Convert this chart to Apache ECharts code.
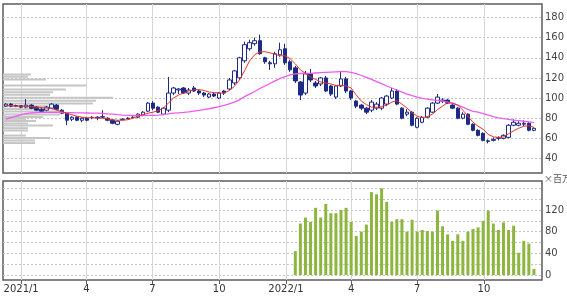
<!DOCTYPE html>
<html><head><meta charset="utf-8">
<script src="https://cdn.jsdelivr.net/npm/echarts@6/dist/echarts.min.js"></script>
<style>html,body{margin:0;padding:0;background:#fff}#c{width:567px;height:298px}</style>
</head><body><div id="c"></div>
<script>
// Weekly candles, first week (Friday) and OHLC values
const firstWeek = '2020-12-11';
const open  = [92,94,92,92.5,91,93,91,89,88,90,93,88,85,79,81,78,80,80.5,81,81,80,78,74,78.5,79.5,80.5,81,83,87,95,91,84,88,105,108,110,105,110,107,105,101,104,100,107,109,115,120,137,149,154,157,140,135,134,143,149,136,130,116,105,124,115,114,120,112,101,112,119,107,97,93,90,88,90,90,94,100,107,90,84,86,71,76,81,86,95,97,98,93,90,80,84,74,68,65,57,58,60,60,61,73,73,74,75,68];
const close = [94,92,92.6,91,93,90,88,87,91,94,89,85,78,81,78,80,78,81,80.4,81.6,78,75,77,79,80,81,84,86,95,90,86,90,105,110,109,105,108,107,105,103,104,102,105,105,118,127,140,153,155,157,144,136,134,144,148,135,128,117,103,124,118,112,120,107,104,112,119,107,100,92,90,86,96,94,100,102,107,94,80,86,73,80,81,90,95,101,98,95,90,80,84,74,68,63,58,57.6,59,60.6,63,73,76,75,75,68,70];
const low   = [91,91,91,90,90,89,87,86,87,89,88,84,73,77,77,76,77,79,78,80,77,74,73,78,79,80,80,82,86,88,85,83,86,103,104,104,103,106,103,101,100,101,99,103,108,113,118,135,147,152,143,134,128,130,141,133,126,115,98,103,116,110,112,106,102,99,111,105,98,90,88,84,86,88,88,92,99,93,79,82,72,70,75,80,85,94,95,94,89,79,79,73,67,62,57,55,57,58,59,60,72,72,72,67,67];
const high  = [95,95,93.5,93,99,94,92,91,92,95,94,89,86,82,82,81,81,82,82,88,81,79,78,80,81,82,85,87,96,97,92,91,121,111,110,111,110,112,108,106,105,105,106,108,120,128,141,156,158,160,163,141,137,146,155,154,138,132,117,127,129,117,121,122,113,113,126,121,108,98,94,91,98,96,101,103,110,109,91,89,87,81,82,91,96,104,100,99,94,91,86,85,75,69,66,59,61,62,64,74,79,77,78,76,71];
// Moving averages (red = short, magenta = long)
const maShort = [93,92.5,92,92,92,91.5,91,90.5,90,89.5,88,86.5,85,83.5,82,81,80.5,80.5,80,80,79.5,78.5,78,78,78.5,80,82,83.5,85,86,87.5,90,95,100,103,105,107,108,108.5,107.5,106,105.5,105,105,107.5,111.5,118,127,137,143,146,146,145,143.5,142,142,139,134,128,124.5,121,118.5,116,115,114,112.5,112.5,112,110,103,97,93.5,91,91,91.5,93,96,97.5,94,90,85.5,82,80.5,81.5,84,88.5,92,95.5,95,93,88,82,76,72,69,64,61.5,61,61.5,64.5,67.5,70,72,72.5,71];
const maLong  = [79,80.5,82,83.5,84.5,85.2,85.6,85.8,85.8,85.8,85.7,85.7,85.6,85.5,85.4,85.3,85.2,85.1,85,84.8,84.4,84,83.5,83.1,82.8,82.7,82.7,82.7,82.8,82.9,83.1,83.6,84.4,85,85.4,85.7,86.3,87,87.7,88.5,89.4,90.4,91.4,92.7,94.3,96,98.2,101.5,104,106.5,109.5,112,114.5,117,119.5,121.4,123,124,124.4,124.5,124.6,124.9,125.2,125.5,125.8,126.1,126.4,126.2,125.6,124.2,122.4,120.5,118.5,116.4,114.3,112,110,108,106,104,102.4,101,99.8,98.9,98.3,97.7,97,96,94.8,93,91,88.8,86.8,86,84.5,83,81.5,80.3,79.5,78.8,78.2,77.7,77,76.3,75.6];
// Weekly volume (millions), from the first week of 2022
const volumeFirstWeek = '2022-01-14';
const volume = [44,95,106,98,124,106,131,114,114,120,124,98,72,80,93,153,149,166,135,98,103,103,80,102,80,83,81,80,119,90,75,63,75,63,80,85,88,100,119,95,83,97,83,91,41,63,58,11];
// Volume-by-price profile (price level, relative volume)
const profilePrice  = [123.4,121.2,118.4,112.6,108.4,105.9,103.4,100.4,97.4,94.6,91.8,89.2,86.6,83.7,81.1,79.4,77.2,74.8,72.8,70.1,67.8,62.8,60.3,57.9,55.4];
const profileVolume = [28,25,43,83,63,50,47,110,93,90,45,35,60,57,40,23,33,25,50,25,25,23,47,32,32];
// Axis labels
const quarterDates  = ['2021-01-01','2021-04-01','2021-07-01','2021-10-01','2022-01-01','2022-04-01','2022-07-01','2022-10-01'];
const quarterLabels = ['2021/1','4','7','10','2022/1','4','7','10'];
const volumeTickLabels = [0,40,80,120];

function dayOf(s){const p=s.split('-').map(Number);return (Date.UTC(p[0],p[1]-1,p[2])-Date.UTC(2021,0,1))/86400000;}
const w0 = dayOf(firstWeek);
const weekDays = open.map((_, i) => w0 + 7 * i);
const v0 = dayOf(volumeFirstWeek);
const volDays = volume.map((_, i) => v0 + 7 * i);
const qDays = quarterDates.map(dayOf);
const X_MIN = -25, X_MAX = 718;
const font = 'DejaVu Sans';
const frame = '#5c5c5c';
const navy = '#1d2b84';
const dash = {color:'#c4c4c4', type:[2,2], width:1};

const chart = echarts.init(document.getElementById('c'), null, {renderer:'canvas'});
chart.setOption({
  animation:false,
  backgroundColor:'#fff',
  grid:[
    {left:3, top:4, width:539, height:169, show:true, borderColor:frame, borderWidth:1.5, backgroundColor:'#fff'},
    {left:3, top:17.5, width:539, height:141},
    {left:3, top:181, width:539, height:99, show:true, borderColor:frame, borderWidth:1.5, backgroundColor:'#fff'},
    {left:3, top:188.3, width:539, height:86.7}
  ],
  xAxis:[
    {gridIndex:0, type:'value', min:X_MIN, max:X_MAX, axisLine:{show:false},
     axisTick:{show:false, customValues:qDays}, axisLabel:{show:false, customValues:qDays},
     splitLine:{show:true, lineStyle:{color:'#d6d6d6', width:1}}},
    {gridIndex:1, type:'value', min:X_MIN, max:X_MAX, show:false},
    {gridIndex:1, type:'value', min:0, max:539, show:false},
    {gridIndex:2, type:'value', min:X_MIN, max:X_MAX, position:'bottom', axisLine:{show:false},
     axisTick:{show:true, length:4, customValues:qDays, lineStyle:{color:frame}},
     axisLabel:{show:true, customValues:qDays, margin:4, fontFamily:font, fontSize:10, color:'#333',
       formatter:(v)=>{const k=qDays.indexOf(v);return k>=0?quarterLabels[k]:'';}},
     splitLine:{show:true, lineStyle:{color:'#d6d6d6', width:1}}},
    {gridIndex:3, type:'value', min:X_MIN, max:X_MAX, show:false}
  ],
  yAxis:[
    {gridIndex:0, type:'value', min:0, max:1, show:false},
    {gridIndex:1, type:'value', min:40, max:180, interval:20, position:'right',
     axisLine:{show:false}, axisTick:{show:false},
     axisLabel:{margin:3, fontFamily:font, fontSize:10, color:'#444'},
     splitLine:{show:true, lineStyle:dash}},
    {gridIndex:2, type:'value', min:0, max:1, show:false},
    {gridIndex:3, type:'value', min:0, max:160, interval:20, position:'right',
     axisLine:{show:false}, axisTick:{show:false},
     axisLabel:{margin:3, fontFamily:font, fontSize:10, color:'#444',
       formatter:(v)=>volumeTickLabels.indexOf(v)>=0?String(v):''},
     splitLine:{show:true, lineStyle:dash}}
  ],
  graphic:[
    {type:'text', left:544, top:174, style:{text:'×百万', font:'9px "Noto Sans CJK JP"', fill:'#555'}}
  ],
  series:[
    {type:'custom', xAxisIndex:2, yAxisIndex:1, z:1, silent:true,
     data: profilePrice.map((p,i)=>[profileVolume[i], p]),
     encode:{x:0, y:1},
     renderItem:(params, api)=>{
       const a = api.coord([0, api.value(1)]);
       const b = api.coord([api.value(0), api.value(1)]);
       return {type:'rect', shape:{x:a[0], y:a[1]-1, width:b[0]-a[0], height:2}, style:{fill:'#c6c6c6'}};
     }},
    {type:'candlestick', xAxisIndex:1, yAxisIndex:1, z:3, barWidth:4,
     data: weekDays.map((d,i)=>[d, open[i], close[i], low[i], high[i]]),
     encode:{x:0, y:[1,2,3,4]},
     itemStyle:{color:'#ffffff', color0:navy, borderColor:navy, borderColor0:navy, borderWidth:1}},
    {type:'line', xAxisIndex:1, yAxisIndex:1, z:4, showSymbol:false, symbol:'none',
     data: weekDays.map((d,i)=>[d, maLong[i]]), lineStyle:{color:'#ee5cee', width:1.3}},
    {type:'line', xAxisIndex:1, yAxisIndex:1, z:5, showSymbol:false, symbol:'none',
     data: weekDays.map((d,i)=>[d, maShort[i]]), lineStyle:{color:'#e8342c', width:1}},
    {type:'bar', xAxisIndex:4, yAxisIndex:3, barWidth:3,
     data: volDays.map((d,i)=>[d, volume[i]]), itemStyle:{color:'#8db63f'}}
  ]
});
</script></body></html>
